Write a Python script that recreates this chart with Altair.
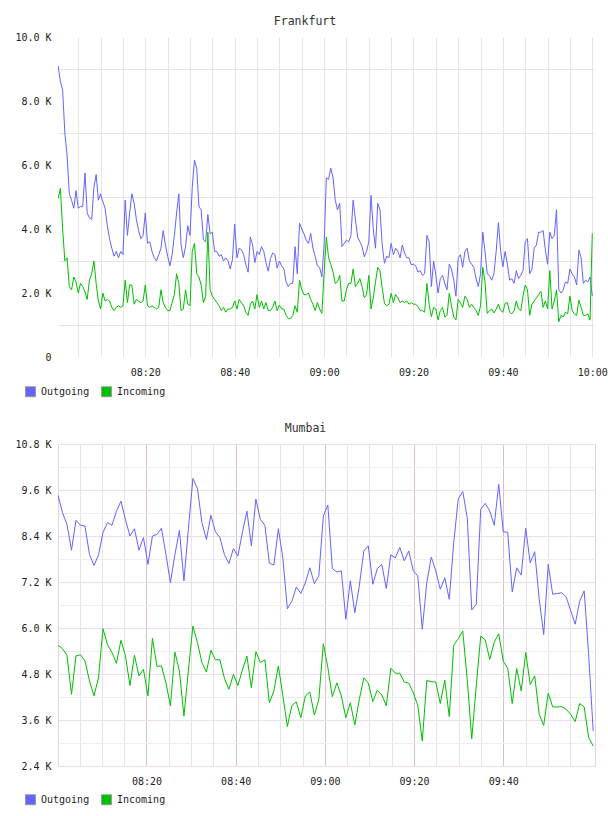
import calendar
import datetime as dt

import altair as alt
import pandas as pd

SERIES = ["Outgoing", "Incoming"]
COLORS = ["#6464ff", "#00c000"]
FONT = "DejaVu Sans Mono"

# Frankfurt, one sample every 30 s from 08:00:30, values in K
fra_out = [
    9.1, 8.6, 8.35, 7.0, 6.3, 5.1, 4.9, 4.65, 5.2, 4.65,
    4.7, 4.7, 5.75, 4.5, 4.35, 4.3, 5.3, 5.7, 4.9, 5.1,
    4.85, 4.65, 4.1, 3.7, 3.4, 3.15, 3.3, 3.1, 3.3, 3.2,
    4.9, 3.8, 4.5, 5.1, 4.8, 4.3, 3.95, 3.7, 3.8, 4.5,
    3.55, 3.6, 3.3, 3.1, 3.0, 3.2, 3.4, 3.95, 3.5, 3.15,
    2.85, 3.2, 3.8, 4.5, 5.1, 3.5, 3.1, 3.45, 4.1, 3.8,
    5.3, 6.15, 5.9, 4.7, 4.6, 3.66, 3.6, 4.45, 3.85, 3.9,
    3.3, 3.3, 3.15, 3.2, 3.0, 3.1, 3.0, 2.75, 3.05, 4.15,
    3.1, 3.4, 3.35, 3.2, 2.88, 2.65, 3.75, 3.5, 2.95, 3.3,
    3.2, 3.45, 3.3, 2.95, 2.68, 3.08, 3.25, 3.2, 2.78, 3.0,
    2.85, 2.75, 2.35, 2.2, 2.3, 2.3, 3.45, 2.6, 4.18, 4.0,
    3.85, 3.65, 3.55, 3.86, 3.4, 3.15, 2.85, 2.8, 2.5, 3.5,
    5.6, 5.55, 5.9, 5.6, 4.9, 4.6, 4.8, 3.45, 3.55, 3.65,
    3.6, 3.8, 4.9, 4.3, 3.75, 3.6, 3.45, 3.13, 3.3, 3.6,
    5.05, 4.0, 3.4, 4.8, 4.6, 3.5, 2.93, 3.15, 3.1, 3.55,
    3.2, 3.4, 3.3, 3.1, 3.5, 3.25, 3.1, 3.1, 2.88, 2.9,
    2.85, 2.65, 2.7, 2.55, 2.6, 3.8, 3.6, 2.2, 3.0, 2.55,
    2.0, 2.45, 2.55, 2.3, 2.1, 2.9, 2.75, 2.4, 1.9, 3.1,
    3.2, 2.8, 3.3, 3.4, 3.0, 2.9, 2.8, 2.45, 2.2, 2.6,
    3.9, 3.3, 2.6, 2.55, 2.4, 2.6, 3.3, 4.2, 3.3, 2.82,
    3.3, 2.9, 2.4, 2.45, 2.3, 2.7, 2.45, 2.55, 2.7, 3.6,
    3.7, 2.6, 2.75, 3.4, 3.5, 3.9, 3.9, 3.95, 3.35, 2.9,
    3.9, 3.7, 3.8, 4.6, 2.1, 2.0, 2.1, 2.35, 2.3, 2.75,
    2.6, 2.5, 2.25, 3.34, 3.1, 2.3, 2.4, 2.35, 2.5, 1.9,
]
fra_in = [
    4.95, 5.27, 4.0, 3.0, 3.1, 2.2, 2.1, 2.5, 2.35, 2.0,
    2.3, 2.2, 2.05, 1.8, 2.4, 2.6, 3.0, 2.3, 1.75, 1.5,
    2.0, 1.75, 1.8, 1.75, 1.55, 1.45, 1.55, 1.6, 1.55, 1.6,
    2.4, 1.7, 2.25, 2.25, 1.65, 1.8, 1.75, 1.7, 1.75, 2.25,
    1.6, 1.55, 1.6, 1.55, 1.5, 1.55, 2.1, 1.7, 1.55, 1.45,
    1.45, 1.7, 1.95, 2.6, 2.3, 1.45, 1.5, 2.1, 1.65, 1.6,
    3.3, 3.55, 2.6, 2.5, 2.25, 1.7, 1.9, 3.9, 2.1, 1.9,
    1.8, 1.7, 1.6, 1.45, 1.55, 1.4, 1.5, 1.5, 1.55, 1.75,
    1.5, 1.8, 1.7, 1.6, 1.4, 1.3, 1.65, 1.75, 1.5, 1.95,
    1.55, 1.75, 1.5, 1.7, 1.45, 1.45, 1.55, 1.75, 1.45, 1.62,
    1.5, 1.5, 1.3, 1.2, 1.2, 1.3, 1.6, 1.4, 2.4, 2.1,
    1.95, 1.95, 2.0, 1.8, 1.65, 1.45, 1.7, 1.5, 1.36, 2.6,
    3.75, 3.1, 2.9, 2.65, 2.3, 2.35, 2.55, 1.75, 1.75, 2.1,
    2.3, 2.3, 2.75, 2.2, 2.3, 2.45, 2.2, 1.85, 1.95, 2.55,
    1.5, 1.85, 2.35, 2.8, 2.7, 2.15, 1.68, 1.6, 1.65, 1.99,
    1.7, 1.95, 1.85, 1.7, 1.75, 1.7, 1.75, 1.65, 1.7, 1.65,
    1.65, 1.57, 1.45, 1.45, 1.4, 2.3, 1.65, 1.26, 1.55, 1.5,
    1.16, 1.45, 1.55, 1.25, 1.3, 1.99, 1.6, 1.25, 1.16, 1.8,
    1.7, 1.55, 1.9, 1.8, 1.55, 1.65, 1.55, 1.45, 1.3, 1.6,
    2.8, 2.35, 1.36, 1.45, 1.5, 1.38, 1.5, 1.65, 1.45, 1.4,
    1.68, 1.7, 1.4, 1.35, 1.45, 1.75, 1.5, 1.45, 1.9, 2.25,
    2.1, 1.3, 1.65, 1.75, 1.85, 1.95, 2.05, 1.55, 1.75, 1.5,
    2.7, 1.5, 1.75, 2.1, 1.1, 1.3, 1.25, 1.4, 1.35, 1.9,
    1.45, 1.35, 1.3, 1.78, 1.55, 1.3, 1.3, 1.35, 1.15, 3.86,
]

# Mumbai, one sample about every minute from 08:00:10, values in K
mum_out = [
    9.46, 9.01, 8.70, 8.03, 8.81, 8.68, 8.66, 7.92, 7.63, 7.9,
    8.49, 8.75, 8.68, 9.05, 9.31, 8.83, 8.4, 8.59, 8.03, 8.36,
    7.66, 8.4, 8.44, 8.6, 7.92, 7.18, 7.92, 8.55, 7.23, 8.6,
    9.9, 9.64, 8.75, 8.31, 8.94, 8.51, 8.36, 7.92, 7.68, 8.07,
    7.88, 8.49, 9.05, 8.14, 9.36, 8.83, 8.68, 7.69, 7.64, 8.59,
    7.82, 6.5, 6.7, 7.07, 6.9, 7.18, 7.57, 7.16, 7.36, 8.92,
    9.21, 7.55, 7.46, 7.49, 6.23, 7.23, 6.4, 7.1, 8.01, 8.14,
    7.14, 7.55, 7.66, 7.03, 7.91, 7.83, 8.1, 7.75, 8.01, 7.49,
    7.36, 5.97, 7.18, 7.85, 7.49, 7.01, 7.31, 6.75, 8.23, 9.37,
    9.56, 8.88, 6.47, 6.62, 9.1, 9.25, 9.05, 8.68, 9.75, 8.51,
    8.5, 6.94, 7.57, 7.38, 8.6, 7.7, 7.99, 6.75, 5.83, 7.66,
    6.88, 6.9, 6.92, 6.81, 6.45, 6.1, 6.7, 6.97, 5.3, 3.31,
]
mum_in = [
    5.55, 5.46, 5.29, 4.27, 5.27, 5.3, 5.14, 4.62, 4.23, 4.7,
    5.98, 5.57, 5.36, 5.08, 5.68, 5.27, 4.5, 5.29, 4.75, 4.92,
    4.23, 5.73, 5.0, 5.01, 4.57, 3.97, 5.37, 4.88, 3.7, 4.9,
    6.05, 5.62, 5.1, 4.85, 5.42, 5.17, 5.17, 4.69, 4.4, 4.79,
    4.5, 4.9, 5.27, 4.44, 5.38, 5.1, 5.17, 4.05, 4.36, 5.01,
    4.23, 3.43, 3.98, 4.07, 3.66, 4.23, 4.33, 3.73, 4.14, 5.59,
    4.97, 4.21, 4.57, 4.23, 3.66, 4.05, 3.47, 4.14, 4.7, 4.56,
    4.08, 4.38, 4.25, 3.97, 4.95, 4.82, 4.82, 4.59, 4.56, 4.31,
    3.98, 3.05, 4.63, 4.6, 4.59, 4.03, 4.64, 3.69, 5.55, 5.72,
    5.92, 4.65, 3.11, 4.49, 5.79, 5.69, 5.18, 5.63, 5.85, 5.14,
    4.95, 4.03, 4.94, 4.36, 5.36, 4.53, 4.75, 3.75, 3.46, 4.3,
    3.94, 3.94, 3.95, 3.88, 3.75, 3.56, 4.03, 3.94, 3.14, 2.92,
]

DAY = dt.datetime(2024, 1, 1)


def clock(h, m, s=0.0):
    return DAY + dt.timedelta(hours=h, minutes=m, seconds=s)


def epoch_ms(t):
    return calendar.timegm(t.timetuple()) * 1000 + t.microsecond // 1000


fra_times = [epoch_ms(clock(8, 0, 30) + dt.timedelta(seconds=30 * i)) for i in range(len(fra_out))]
mum_times = [epoch_ms(clock(8, 0, 10) + dt.timedelta(seconds=60.5 * i)) for i in range(len(mum_out))]

X_LABEL = "utcminutes(datum.value) % 20 == 0 ? utcFormat(datum.value, '%H:%M') : ''"


def panel(title, times, out_vals, in_vals, xdomain, xticks, xgrid, ydomain, yticks,
          ylabel, ygrid_color, ygrid_opacity, width, height, border, legend_y):
    n = len(times)
    df = pd.DataFrame({
        "time": times + times,
        "series": [SERIES[0]] * n + [SERIES[1]] * n,
        "value": out_vals + in_vals,
    })
    x = alt.X(
        "time:T",
        scale=alt.Scale(type="utc", domain=xdomain, nice=False),
        axis=alt.Axis(values=xticks, labelExpr=X_LABEL, gridColor=xgrid, title=None,
                      labelFlush=False, labelOverlap=False, labelPadding=10.5),
    )
    y = alt.Y(
        "value:Q",
        scale=alt.Scale(domain=ydomain, nice=False, zero=False),
        axis=alt.Axis(values=yticks, labelExpr=ylabel, gridColor=ygrid_color,
                      gridOpacity=ygrid_opacity, title=None, labelPadding=7,
                      labelOverlap=False),
    )
    layers = []
    for name, color in zip(SERIES, COLORS):
        layers.append(
            alt.Chart(df)
            .transform_filter(alt.datum.series == name)
            .mark_line(color=color, strokeWidth=1, clip=True)
            .encode(x=x, y=y)
        )
    keys = alt.Chart(df).transform_filter("false").mark_square(
        size=100, filled=True, opacity=1
    ).encode(
        fill=alt.Fill(
            "series:N",
            sort=SERIES,
            scale=alt.Scale(domain=SERIES, range=COLORS),
            legend=alt.Legend(
                title=None, orient="none", legendX=-33, legendY=legend_y,
                direction="horizontal", symbolType="square", symbolSize=100,
                symbolStrokeColor="#9a9a9a", symbolStrokeWidth=1, symbolOpacity=1,
                labelFont=FONT, labelFontSize=10, labelColor="#222222",
                labelOffset=5, columnPadding=9,
            ),
        ),
    )
    layers.append(keys)
    return alt.layer(*layers).properties(
        width=width,
        height=height,
        title=alt.TitleParams(title, anchor="middle", frame="group", dx=-21, offset=-6,
                              baseline="bottom", font=FONT, fontSize=11.5,
                              fontWeight="normal", color="#333333"),
        view=border,
    )


fra_xticks = [epoch_ms(clock(8, 5 * k)) for k in range(1, 25)]
mum_xticks = [epoch_ms(clock(8, 5 * k)) for k in range(1, 24)]

fra = panel(
    "Frankfurt", fra_times, fra_out, fra_in,
    [epoch_ms(clock(8, 0, 28)), epoch_ms(clock(10, 0, 23))], fra_xticks, "#e6e6e6",
    [0, 10], list(range(0, 11)),
    "datum.value % 2 == 0 ? (datum.value == 0 ? '0' : format(datum.value, '.1f') + ' K') : ''",
    "#e4e4e4",
    {"condition": {"test": "datum.value % 2 == 0", "value": 0}, "value": 1},
    536, 320, alt.ViewBackground(stroke="transparent"), 349,
)

mum_yticks = [round(2.4 + 0.6 * k, 1) for k in range(15)]
mum = panel(
    "Mumbai", mum_times, mum_out, mum_in,
    [epoch_ms(clock(8, 0, 10)), epoch_ms(clock(10, 0, 34))], mum_xticks,
    {"condition": {"test": "utcminutes(datum.value) % 20 == 0", "value": "#d9c0d9"},
     "value": "#ebe0eb"},
    [2.4, 10.8], mum_yticks,
    "round((datum.value - 2.4) * 10) % 12 == 0 ? format(datum.value, '.1f') + ' K' : ''",
    {"condition": {"test": "round((datum.value - 2.4) * 10) % 12 == 0", "value": "#eedcee"},
     "value": "#eeeeee"},
    1,
    537, 322, alt.ViewBackground(stroke="#e3d0e3"), 350,
)

chart = alt.vconcat(fra, mum, spacing=22).resolve_scale(
    x="independent", y="independent", fill="independent"
).resolve_legend(fill="independent").properties(
    padding={"left": 14, "top": 15, "right": 0, "bottom": 0}
).configure_axis(
    labelFont=FONT, labelFontSize=10, labelColor="#222222",
    domain=False, ticks=False, tickSize=0, gridWidth=1,
).configure_view(
    fill="white"
)

chart.save("out.html", embed_options={"renderer": "svg", "actions": False})
